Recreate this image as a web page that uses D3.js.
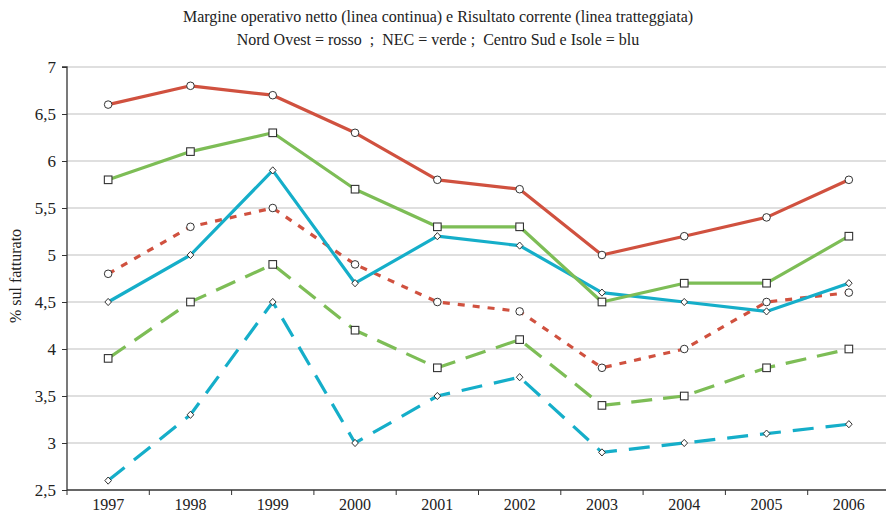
<!DOCTYPE html>
<html><head><meta charset="utf-8">
<script src="https://cdn.jsdelivr.net/npm/d3@7"></script>
<style>body{margin:0;background:#fff}svg{display:block}</style>
</head><body><svg id="c" width="886" height="515"></svg>
<script>
const years = ["1997","1998","1999","2000","2001","2002","2003","2004","2005","2006"];
const yTicks = [2.5,3,3.5,4,4.5,5,5.5,6,6.5,7];
const nordOvestMargine = [6.6,6.8,6.7,6.3,5.8,5.7,5.0,5.2,5.4,5.8];
const necMargine = [5.8,6.1,6.3,5.7,5.3,5.3,4.5,4.7,4.7,5.2];
const centroSudMargine = [4.5,5.0,5.9,4.7,5.2,5.1,4.6,4.5,4.4,4.7];
const nordOvestRisultato = [4.8,5.3,5.5,4.9,4.5,4.4,3.8,4.0,4.5,4.6];
const necRisultato = [3.9,4.5,4.9,4.2,3.8,4.1,3.4,3.5,3.8,4.0];
const centroSudRisultato = [2.6,3.3,4.5,3.0,3.5,3.7,2.9,3.0,3.1,3.2];

const FONT="Liberation Serif";
const RED="#d0513f", GREEN="#7dbd56", BLUE="#15aec9";
const series = [
  {v:centroSudRisultato,c:BLUE,d:"21,12",m:"diamond"},
  {v:necRisultato,c:GREEN,d:"21,11",m:"square"},
  {v:nordOvestRisultato,c:RED,d:"7,8",m:"circle"},
  {v:centroSudMargine,c:BLUE,d:null,m:"diamond"},
  {v:necMargine,c:GREEN,d:null,m:"square"},
  {v:nordOvestMargine,c:RED,d:null,m:"circle"}
];

const svg=d3.select("#c").attr("font-family",FONT);
const L=67,R=890,T=67,B=490;
const x=d3.scaleBand().domain(years).range([L,R]);
const y=d3.scaleLinear().domain([2.5,7]).range([B,T]);

function txt(sel,size){return sel.attr("font-family",FONT).attr("font-size",size).attr("fill","#222");}

// title
txt(svg.append("text").attr("x",438).attr("y",22).attr("text-anchor","middle"),16).text("Margine operativo netto (linea continua) e Risultato corrente (linea tratteggiata)");
txt(svg.append("text").attr("x",438).attr("y",45).attr("text-anchor","middle").attr("xml:space","preserve"),16).text("Nord Ovest = rosso\u00a0 ;\u00a0 NEC = verde ;\u00a0 Centro Sud e Isole = blu");

// grid
svg.append("g").selectAll("line").data(yTicks.slice(1)).join("line")
  .attr("x1",L).attr("x2",886).attr("y1",d=>y(d)).attr("y2",d=>y(d))
  .attr("stroke","#d4d4d4").attr("stroke-width",1.5);

// axes
const fmt=d=>String(d).replace(".",",");
const ya=svg.append("g").attr("transform",`translate(${L},0)`).call(d3.axisLeft(y).tickValues(yTicks).tickFormat(fmt).tickSize(5).tickPadding(6));
ya.attr("font-family",FONT).attr("font-size",17);
ya.select(".domain").attr("stroke","#333").attr("stroke-width",1.3).attr("d",`M-5,${T}H0V${B}`);
ya.selectAll(".tick line").attr("stroke","#333");
txt(ya.selectAll("text"),17);

const xa=svg.append("g").attr("transform",`translate(0,${B})`).call(d3.axisBottom(x).tickSize(0).tickPadding(9));
xa.attr("font-family",FONT).attr("font-size",16);
xa.select(".domain").attr("stroke","#333").attr("stroke-width",1.3).attr("d",`M${L},0H${R}`);
txt(xa.selectAll("text"),16);
xa.append("g").selectAll("line").data(d3.range(years.length+1)).join("line")
  .attr("x1",i=>L+i*x.step()).attr("x2",i=>L+i*x.step()).attr("y1",0).attr("y2",5).attr("stroke","#333");

txt(svg.append("text").attr("transform",`translate(21,${276}) rotate(-90)`).attr("text-anchor","middle"),16).text("% sul fatturato");

const cx=i=>x(years[i])+x.bandwidth()/2;
const line=d3.line().x((d,i)=>cx(i)).y(d=>y(d));
series.forEach(s=>{
  svg.append("path").attr("d",line(s.v)).attr("fill","none").attr("stroke",s.c).attr("stroke-width",3.2)
    .attr("stroke-dasharray",s.d).attr("stroke-linejoin","round");
});
series.forEach(s=>{
  const g=svg.append("g");
  s.v.forEach((v,i)=>{
    const px=cx(i),py=y(v);
    if(s.m==="circle") g.append("circle").attr("cx",px).attr("cy",py).attr("r",3.8).attr("fill","#fff").attr("stroke","#333").attr("stroke-width",1);
    else if(s.m==="square") g.append("rect").attr("x",px-3.8).attr("y",py-3.8).attr("width",7.6).attr("height",7.6).attr("fill","#fff").attr("stroke","#333").attr("stroke-width",1.1);
    else g.append("path").attr("d",`M${px},${py-3.6}L${px+3.3},${py}L${px},${py+3.6}L${px-3.3},${py}Z`).attr("fill","#fff").attr("stroke","#333").attr("stroke-width",1);
  });
});
</script></body></html>
